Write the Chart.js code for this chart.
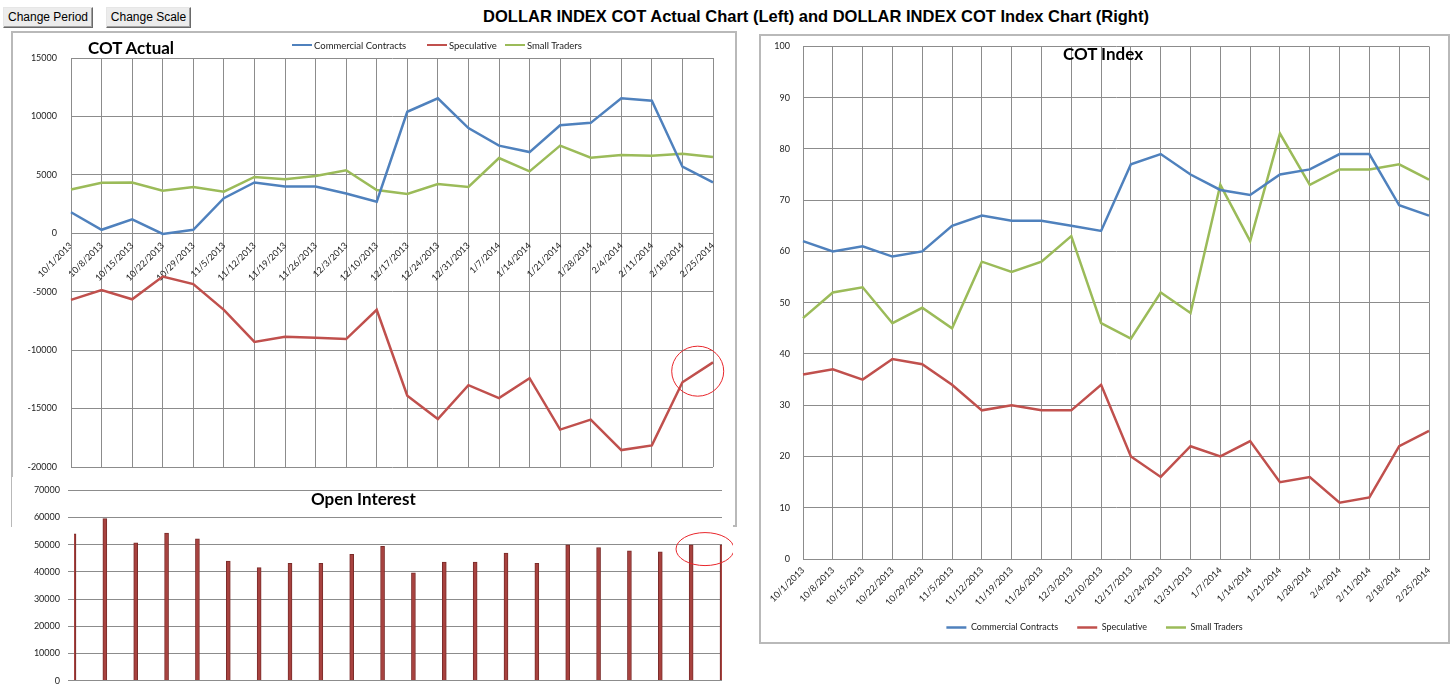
<!DOCTYPE html>
<html>
<head>
<meta charset="utf-8">
<script src="https://cdn.jsdelivr.net/npm/chart.js@4/dist/chart.umd.min.js"></script>
<style>
html,body{margin:0;padding:0;background:#fff;overflow:hidden;width:1453px;height:684px;}
body{position:relative;font-family:'Lato',sans-serif;}
.btn{position:absolute;top:7px;height:21px;box-sizing:border-box;background:#ececec;border:1px solid;border-color:#e6e6e6 #6a6a6a #6a6a6a #e6e6e6;box-shadow:inset -1px -1px 0 #a0a0a0;font:12px 'Liberation Sans',Arial,sans-serif;color:#000;line-height:19px;text-align:center;}
#mainTitle{position:absolute;left:316px;width:1000px;top:7px;text-align:center;font:bold 16.5px 'Liberation Sans',Arial,sans-serif;color:#000;white-space:nowrap;line-height:18px;}
.box{position:absolute;box-sizing:border-box;border:2px solid #b9b9b9;background:#fff;}
canvas{position:absolute;}
.ctitle{position:absolute;font:bold 17px 'Lato',sans-serif;line-height:17px;color:#000;white-space:nowrap;z-index:5;}
.leg{position:absolute;top:39px;height:12px;display:flex;align-items:center;font:9.5px 'Lato',sans-serif;color:#222;white-space:nowrap;z-index:5;}
.leg span.ln{display:inline-block;width:20px;height:2.5px;margin-right:2px;}
</style>
</head>
<body>
<div class="btn" style="left:3px;width:90px;">Change Period</div>
<div class="btn" style="left:106px;width:85px;">Change Scale</div>
<div id="mainTitle">DOLLAR INDEX COT Actual Chart (Left) and DOLLAR INDEX COT Index Chart (Right)</div>

<div class="box" style="left:11px;top:31px;width:726px;height:496px;"></div>
<div class="box" style="left:759px;top:34px;width:691px;height:610px;"></div>

<canvas id="cActual" width="725" height="494" style="left:12px;top:32px;z-index:1;"></canvas>
<canvas id="cOI" width="721" height="217" style="left:12px;top:477px;z-index:2;background:#fff;"></canvas>
<canvas id="cIndex" width="689" height="614" style="left:760px;top:28px;z-index:1;"></canvas>

<div class="ctitle" style="left:88px;top:39px;">COT Actual</div>
<div class="ctitle" style="left:311px;top:490px;">Open Interest</div>
<div class="ctitle" style="left:1063px;top:45px;">COT Index</div>

<div class="leg" style="left:292px;"><span class="ln" style="background:#4f81bd"></span>Commercial Contracts</div>
<div class="leg" style="left:427px;"><span class="ln" style="background:#c0504d"></span>Speculative</div>
<div class="leg" style="left:505px;"><span class="ln" style="background:#9bbb59"></span>Small Traders</div>

<script>
// ---------- data ----------
const dates = ['10/1/2013','10/8/2013','10/15/2013','10/22/2013','10/29/2013','11/5/2013','11/12/2013','11/19/2013','11/26/2013','12/3/2013','12/10/2013','12/17/2013','12/24/2013','12/31/2013','1/7/2014','1/14/2014','1/21/2014','1/28/2014','2/4/2014','2/11/2014','2/18/2014','2/25/2014'];
const seriesNames = ['Commercial Contracts','Speculative','Small Traders'];

const commercialActual  = [1800,300,1200,-50,300,3000,4350,4000,4000,3400,2700,10400,11550,9000,7500,6950,9250,9450,11550,11350,5700,4350];
const speculativeActual = [-5700,-4850,-5650,-3700,-4350,-6550,-9300,-8850,-8950,-9050,-6550,-13900,-15900,-13000,-14100,-12400,-16800,-15950,-18550,-18150,-12750,-11050];
const smallActual       = [3750,4330,4350,3650,3960,3560,4820,4620,4900,5390,3700,3360,4220,3960,6440,5300,7500,6470,6700,6640,6810,6530];

const openInterest = [54000,59600,50700,54300,52200,44000,41600,43200,43200,46500,49400,39700,43600,43600,46900,43200,50000,49000,47800,47400,50000,50000];

const commercialIndex  = [62,60,61,59,60,65,67,66,66,65,64,77,79,75,72,71,75,76,79,79,69,67];
const speculativeIndex = [36,37,35,39,38,34,29,30,29,29,34,20,16,22,20,23,15,16,11,12,22,25];
const smallIndex       = [47,52,53,46,49,45,58,56,58,63,46,43,52,48,73,62,83,73,76,76,77,74];

const actualTicks = {min:-20000, max:15000, step:5000};
const oiTicks = {min:0, max:70000, step:10000};
const indexTicks = {min:0, max:100, step:10};

// ---------- styling ----------
const BLUE='#4f81bd', RED='#c0504d', GREEN='#9bbb59';
const GRID='#8c8c8c', TXT='#222';
Chart.defaults.font.family = 'Lato';
Chart.defaults.color = TXT;
const plain = v => String(v);

function lineDs(label, data, color){
  return {label, data, borderColor:color, backgroundColor:color, borderWidth:2.5,
          pointRadius:0, pointHoverRadius:0, tension:0, fill:false};
}
function ellipsePlugin(idx, val, rx, ry){
  return {id:'ellipse', afterDatasetsDraw(chart){
    const {ctx, scales:{x,y}} = chart;
    const cx = x.getPixelForValue(idx), cy = y.getPixelForValue(val);
    ctx.save(); ctx.beginPath(); ctx.ellipse(cx, cy, rx, ry, 0, 0, Math.PI*2);
    ctx.strokeStyle='#e8262b'; ctx.lineWidth=1; ctx.stroke(); ctx.restore();
  }};
}

// ---------- COT Actual ----------
new Chart(document.getElementById('cActual'), {
  type:'line',
  data:{labels:dates, datasets:[
    lineDs(seriesNames[0], commercialActual, BLUE),
    lineDs(seriesNames[1], speculativeActual, RED),
    lineDs(seriesNames[2], smallActual, GREEN)
  ]},
  options:{
    responsive:false, animation:false, events:[],
    layout:{padding:{left:0, right:24, top:26, bottom:59}},
    plugins:{legend:{display:false}, tooltip:{enabled:false}},
    scales:{
      x:{type:'category', position:{y:0}, offset:false,
         grid:{color:GRID, lineWidth:1, drawTicks:false},
         border:{color:GRID},
         ticks:{font:{size:9}, color:TXT, minRotation:45, maxRotation:45, autoSkip:false, padding:7}},
      y:{min:actualTicks.min, max:actualTicks.max,
         grid:{color:GRID, lineWidth:1, drawTicks:false},
         border:{color:GRID},
         ticks:{stepSize:actualTicks.step, font:{size:9}, color:TXT, padding:14, callback:plain},
         afterFit(s){ s.width = 59; }}
    }
  },
  plugins:[ellipsePlugin(20.5, -11800, 26, 25)]
});

// ---------- Open Interest ----------
new Chart(document.getElementById('cOI'), {
  type:'bar',
  data:{labels:dates, datasets:[{label:'Open Interest', data:openInterest,
     backgroundColor:'#a8423f', borderColor:'#7a2c2a', borderWidth:1, barThickness:4}]},
  options:{
    responsive:false, animation:false, events:[],
    layout:{padding:{left:0, right:11, top:0, bottom:10}},
    plugins:{legend:{display:false}, tooltip:{enabled:false}},
    scales:{
      x:{display:false, offset:false, grid:{offset:false}},
      y:{min:oiTicks.min, max:oiTicks.max,
         grid:{color:GRID, lineWidth:1, drawTicks:true, tickLength:6},
         border:{display:false},
         ticks:{stepSize:oiTicks.step, font:{size:9}, color:TXT, padding:8, callback:plain},
         afterFit(s){ s.width = 62; }}
    }
  },
  plugins:[ellipsePlugin(20.45, 48400, 29, 16.5)]
});

// ---------- COT Index ----------
new Chart(document.getElementById('cIndex'), {
  type:'line',
  data:{labels:dates, datasets:[
    lineDs(seriesNames[0], commercialIndex, BLUE),
    lineDs(seriesNames[1], speculativeIndex, RED),
    lineDs(seriesNames[2], smallIndex, GREEN)
  ]},
  options:{
    responsive:false, animation:false, events:[],
    layout:{padding:{left:0, right:20, top:0, bottom:0}},
    plugins:{
      legend:{position:'bottom', labels:{usePointStyle:true, pointStyle:'line', pointStyleWidth:20,
              font:{size:9}, color:TXT, padding:19}},
      tooltip:{enabled:false}
    },
    scales:{
      x:{type:'category', offset:false,
         grid:{color:GRID, lineWidth:1, drawTicks:false},
         border:{color:GRID},
         ticks:{font:{size:9}, color:TXT, minRotation:45, maxRotation:45, autoSkip:false, padding:6},
         afterFit(s){ s.height = 45; }},
      y:{min:indexTicks.min, max:indexTicks.max,
         grid:{color:GRID, lineWidth:1, drawTicks:false},
         border:{color:GRID},
         ticks:{stepSize:indexTicks.step, font:{size:9}, color:TXT, padding:13, callback:plain},
         afterFit(s){ s.width = 43; }}
    }
  }
});
</script>
</body>
</html>
